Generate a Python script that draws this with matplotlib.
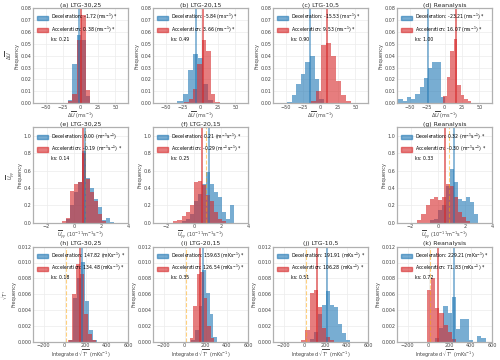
import numpy as np
import matplotlib.pyplot as plt
from matplotlib.patches import Patch

# ---------------- data ----------------
titles = ['(a) LTG-30,25', '(b) LTG-20,15', '(c) LTG-10,5', '(d) Reanalysis',
          '(e) LTG-30,25', '(f) LTG-20,15', '(g) Reanalysis',
          '(h) LTG-30,25', '(i) LTG-20,15', '(j) LTG-10,5', '(k) Reanalysis']

# legend values (difference of mean to reference), ks values
dec_val = [-1.72, -5.84, -15.53, -23.21, 0.00, 0.21, 0.32, 147.82, 159.63, 191.91, 229.21]
acc_val = [0.38, 3.66, 9.53, 16.07, -0.19, -0.29, -0.30, 134.48, 126.54, 106.28, 71.83]
dec_star = [1, 1, 1, 1, 0, 1, 1, 1, 1, 1, 1]
acc_star = [1, 1, 1, 1, 1, 1, 1, 1, 1, 1, 1]
ks = [0.21, 0.49, 0.90, 1.00, 0.14, 0.25, 0.33, 0.18, 0.35, 0.51, 0.72]
ref = [0, 0, 0, 0, 0.85, 0.88, 0.86, 15, 15, 15, 15]   # orange dashed reference

# histograms: (start, bin width, heights)
dec_start = [-18.5, -33, -48, -66, -0.6, -0.9, -0.6, 40, 62, 46, 60]
dec_width = [6.5, 7.3, 6.6, 6.1, 0.3, 0.3, 0.3, 38, 35, 38.5, 40]
dec_h = [
    [0.003, 0.033, 0.057, 0.053, 0.006],
    [0.002, 0.008, 0.028, 0.041, 0.038, 0.016, 0.003],
    [0.001, 0.007, 0.016, 0.025, 0.035, 0.040, 0.020, 0.004],
    [0.004, 0.002, 0.005, 0.004, 0.008, 0.014, 0.021, 0.030, 0.035, 0.035, 0.005],
    [0.05, 0.20, 0.35, 0.47, 0.83, 0.52, 0.40, 0.28, 0.18, 0.03, 0.06, 0.01],
    [0.02, 0.05, 0.10, 0.25, 0.33, 0.45, 0.59, 0.45, 0.35, 0.30, 0.12, 0.04, 0.20],
    [0.03, 0.05, 0.15, 0.20, 0.43, 0.62, 0.47, 0.28, 0.25, 0.30, 0.24, 0.10],
    [0.0002, 0.0055, 0.0080, 0.0101, 0.0052, 0.0015, 0.0003],
    [0.0003, 0.0015, 0.0045, 0.0090, 0.0062, 0.0035, 0.0006],
    [0.0004, 0.0012, 0.0035, 0.0047, 0.0064, 0.0046, 0.0044, 0.0023, 0.0011, 0.0003],
    [0.0005, 0.0018, 0.0045, 0.0036, 0.0057, 0.0016, 0.0029, 0.0029, 0.0003, 0.0, 0.0008, 0.0005],
]
acc_start = [-18.5, -23.5, -13, -1.5, -0.9, -1.5, -1.5, 30, 50, -31, -15]
acc_width = [6.5, 6.4, 7, 5, 0.3, 0.3, 0.3, 38, 33, 38.5, 39]
acc_h = [
    [0.002, 0.008, 0.053, 0.074, 0.011],
    [0.001, 0.004, 0.012, 0.033, 0.053, 0.044, 0.008, 0.001],
    [0.002, 0.010, 0.049, 0.051, 0.040, 0.019, 0.007, 0.002],
    [0.006, 0.022, 0.044, 0.054, 0.015, 0.007, 0.004, 0.002],
    [0.02, 0.06, 0.37, 0.45, 0.47, 0.80, 0.50, 0.35, 0.25, 0.10, 0.02],
    [0.02, 0.03, 0.08, 0.12, 0.20, 0.47, 0.48, 0.44, 0.32, 0.25, 0.12, 0.05, 0.02],
    [0.03, 0.10, 0.20, 0.28, 0.30, 0.26, 0.30, 0.45, 0.43, 0.30, 0.12, 0.07, 0.02],
    [0.0003, 0.0060, 0.0098, 0.0085, 0.0035, 0.0010, 0.0003],
    [0.0005, 0.0045, 0.0086, 0.0088, 0.0055, 0.0020, 0.0005],
    [0.0003, 0.0015, 0.0062, 0.0066, 0.0044, 0.0018, 0.0006, 0.0002],
    [0.0065, 0.0080, 0.0043, 0.0037, 0.0022, 0.0013, 0.0004],
]

# ---------------- layout ----------------
row_of = [0, 0, 0, 0, 1, 1, 1, 2, 2, 2, 2]
col_of = [0, 1, 2, 3, 0, 1, 3, 0, 1, 2, 3]
lefts = [0.066, 0.306, 0.546, 0.794]
bottoms = [0.713, 0.381, 0.05]
units = [r'(ms$^{-1}$)', r'(m$^{-1}$s$^{-1}$)', r'(mKs$^{-1}$)']
xlabels = [r'$\Delta\overline{U}$ (ms$^{-1}$)',
           r'$\overline{U}_{yy}$ (10$^{-11}$m$^{-1}$s$^{-1}$)',
           r"Integrated $\sqrt{T'}$ (mKs$^{-1}$)"]
rowlabels = [r'$\Delta\overline{U}$', r'$\overline{U}_{yy}$', r"$\sqrt{T'}$"]
xlims = [(-68, 68), (-3, 4), (-300, 600)]
ylims = [(0, 0.08), (0, 1.1), (0, 0.012)]
yticks = [np.arange(0, 0.081, 0.01), np.arange(0, 1.01, 0.2), np.arange(0, 0.0121, 0.002)]
yfmt = ['%.2f', '%.1f', '%.3f']
xticks = [[-50, -25, 0, 25, 50], [-2, 0, 2, 4], [-200, 0, 200, 400, 600]]

blue = '#1f77b4'
red = '#d62728'
grey = '#444444'

fig = plt.figure(figsize=(5, 3.6), dpi=100)

for k in range(11):
    r = row_of[k]
    c = col_of[k]
    ax = fig.add_axes([lefts[c], bottoms[r], 0.19, 0.265])
    ax.set_axisbelow(True)
    ax.grid(color='#ececec', lw=0.5)

    e1 = dec_start[k] + dec_width[k] * np.arange(len(dec_h[k]))
    ax.bar(e1, dec_h[k], width=dec_width[k], align='edge', color=blue, alpha=0.6, lw=0)
    e2 = acc_start[k] + acc_width[k] * np.arange(len(acc_h[k]))
    ax.bar(e2, acc_h[k], width=acc_width[k], align='edge', color=red, alpha=0.6, lw=0)

    if r > 0:
        ax.axvline(ref[k], color='orange', ls='--', lw=0.8, alpha=0.5)
    ax.axvline(ref[k] + dec_val[k], color=blue, lw=1.2, alpha=0.6)
    ax.axvline(ref[k] + acc_val[k], color=red, lw=1.2, alpha=0.7)

    ax.set_xlim(xlims[r])
    ax.set_ylim(ylims[r])
    ax.set_xticks(xticks[r])
    ax.set_yticks(yticks[r])
    ax.set_yticklabels([yfmt[r] % v for v in yticks[r]])
    ax.tick_params(labelsize=3.5, colors=grey, length=0, pad=1)
    for s in ax.spines.values():
        s.set_color('#b0b0b0')
        s.set_linewidth(0.9)

    ax.set_title(titles[k], fontsize=4.4, pad=1, color='#222222')
    ax.set_xlabel(xlabels[r], fontsize=3.6, labelpad=0.5, color=grey)
    if c == 0:
        ax.set_ylabel(rowlabels[r] + '\nFrequency', fontsize=3.6, labelpad=1, color=grey)
    else:
        ax.set_ylabel('Frequency', fontsize=3.6, labelpad=1, color=grey)

    lab1 = 'Deceleration: %.2f %s' % (dec_val[k], units[r]) + (' *' if dec_star[k] else '')
    lab2 = 'Acceleration: %.2f %s' % (acc_val[k], units[r]) + (' *' if acc_star[k] else '')
    handles = [Patch(color=blue, alpha=0.6), Patch(color=red, alpha=0.6),
               Patch(color='none')]
    ax.legend(handles, [lab1, lab2, 'ks: %.2f' % ks[k]], loc='upper left',
              fontsize=3.3, frameon=False, handlelength=2.4, handleheight=1.0,
              labelspacing=0.45, borderaxespad=0.5, handletextpad=0.7)

fig.savefig('out.png', dpi=100)
